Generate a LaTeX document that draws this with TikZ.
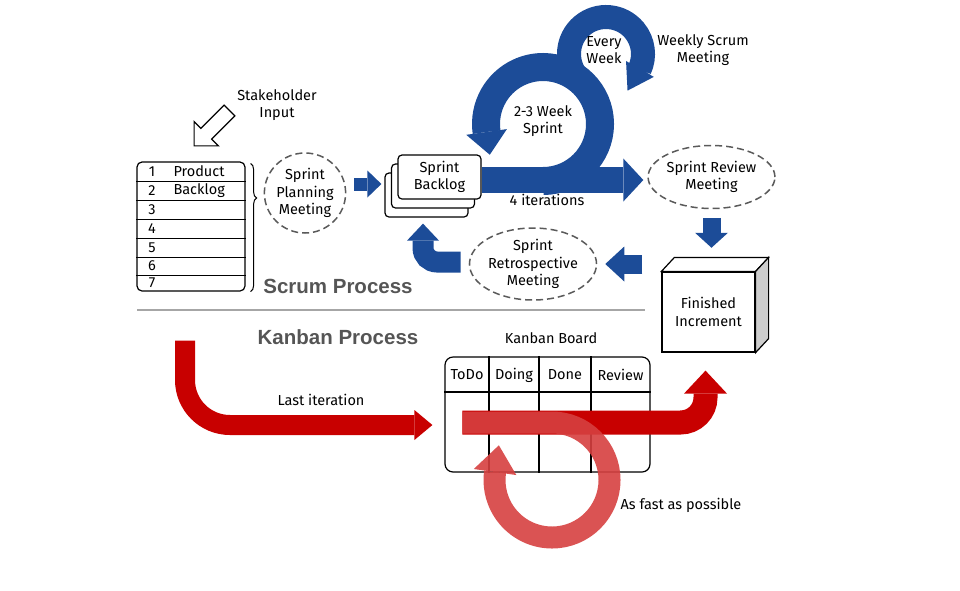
\documentclass[tikz,border=0pt]{standalone}
\usepackage{fontspec}
\setmainfont{Fira Sans}
\newfontfamily\headfont{Liberation Sans}
\usepackage{tikz}
\usetikzlibrary{shapes.geometric, shapes.arrows, arrows.meta, positioning, calc, decorations.pathreplacing}
\definecolor{scrumblue}{RGB}{28, 76, 152}
\definecolor{kanbanred}{RGB}{200, 0, 0}
\definecolor{loopred}{RGB}{214, 64, 64}
\definecolor{dashcolor}{RGB}{90, 90, 90}
\definecolor{headcolor}{RGB}{85, 85, 85}
\definecolor{sidecolor}{RGB}{205, 205, 205}

\begin{document}
\begin{tikzpicture}[
    x=1pt, y=-1pt,
    font=\fontsize{14.5}{17.5}\selectfont,
    meeting/.style={draw=dashcolor, ellipse, dash pattern=on 7pt off 4pt, line width=1.5pt, align=center, inner sep=0pt},
    card/.style={draw, fill=white, rounded corners=4pt, line width=1.2pt, minimum width=83pt, minimum height=44pt, align=center},
    heading/.style={font=\headfont\bfseries\fontsize{20.5}{24}\selectfont, text=headcolor},
    scrum arrow/.style args={#1/#2/#3}{draw=scrumblue, line width=#1, -{Triangle[width=#2, length=#3, line width=0pt]}},
    kanban arrow/.style args={#1/#2/#3}{draw=kanbanred, line width=#1, -{Triangle[width=#2, length=#3, line width=0pt]}},
    input arrow/.style={draw, fill=white, line width=1.2pt, single arrow, minimum height=50pt, inner xsep=0pt, inner ysep=7pt, single arrow head extend=9.5pt}
]
    \useasboundingbox (0,0) rectangle (960,590);

    % Product backlog
    \node[draw, line width=1.2pt, rounded corners=5pt, minimum width=108pt, minimum height=129pt] (pbl) at (191,226.5) {};
    \foreach \y in {181,200,219,238,257,275}
        \draw[line width=1pt] (pbl.west |- 0,\y) -- (pbl.east |- 0,\y);
    \foreach \n/\y in {1/171.5,2/190.5,3/209.5,4/228.5,5/247.5,6/266,7/283}
        \node at (152,\y) {\n};
    \node[anchor=west] at (170,171.5) {Product};
    \node[anchor=west] at (170,190.5) {Backlog};
    \draw[decorate, decoration={brace, amplitude=6pt, aspect=0.27}, line width=1pt] ($(pbl.north east)+(5,2)$) -- ($(pbl.south east)+(5,0)$);

    % Stakeholder input
    \node[input arrow, rotate=225] (input) at (214.5,125.5) {};
    \node[align=center] (inputlabel) at (277,105) {Stakeholder\\Input};

    % Meetings
    \node[meeting, minimum width=80pt, minimum height=80pt] (plan) at (305,193) {Sprint\\Planning\\Meeting};
    \node[meeting, minimum width=123pt, minimum height=63pt] (review) at (711.5,177) {Sprint Review\\Meeting};
    \node[meeting, minimum width=114pt, minimum height=72pt] (retro) at (533,264) {Sprint\\Retrospective\\Meeting};

    % Sprint backlog stack
    \node[card] (sblback) at (426.5,195) {};
    \node[card] (sblmid) at (433,186) {};
    \node[card] (sbl) at (439.5,177) {Sprint\\Backlog};

    % Finished increment
    \node[draw, fill=white, line width=1.2pt, minimum width=93pt, minimum height=80pt, align=center] (inc) at (708.5,312) {Finished\\Increment};
    \draw[line width=1.2pt, fill=white] (inc.north west) -- ++(13,-14) -- ($(inc.north east)+(13,-14)$) -- (inc.north east) -- cycle;
    \draw[line width=1.2pt, fill=sidecolor] (inc.north east) -- ++(13,-14) -- ($(inc.south east)+(13,-14)$) -- (inc.south east) -- cycle;

    % Sprint cycles
    \draw[scrum arrow=24pt/32pt/25pt] (606,54) ++(140:37) arc[start angle=140, end angle=385, radius=37] -- ++(-12,21);
    \draw[scrum arrow=28pt/41pt/23pt] (543,181) arc[start angle=90, end angle=-188, radius=57] -- ++(3.2,22.8);
    \draw[scrum arrow=26pt/43pt/20pt] ($(sbl.east)+(0,3)$) -- ($(review.west)+(-4,3)$);
    \node[align=center] at (543,121) {2-3 Week\\Sprint};
    \node[align=center] at (604,50) {Every\\Week};
    \node[align=center] at (703,50) {Weekly Scrum\\Meeting};
    \node at (547,200) {4 iterations};

    % Scrum flow
    \draw[scrum arrow=13pt/27pt/14pt] ($(plan.east)+(8,-9)$) -- ++(27,0);
    \draw[scrum arrow=18pt/33pt/15pt] ($(review.south)+(0,8.5)$) -- ++(0,30);
    \draw[scrum arrow=19pt/35pt/19pt] ($(inc.west)+(-19,-48)$) -- ($(retro.east)+(8,0)$);
    \draw[scrum arrow=21pt/32pt/17pt, rounded corners=14pt] ($(retro.west)+(-8,-2)$) -| ($(sblback.south)+(-3.5,6)$);

    % Divider and titles
    \draw[gray!70, line width=2pt] (137,310) -- (645,310);
    \node[heading] at (338,286) {Scrum Process};
    \node[heading] at (338,337) {Kanban Process};

    % Kanban board
    \node at (551,338) {Kanban Board};
    \node[draw, fill=white, line width=1.2pt, rounded corners=8pt, minimum width=205pt, minimum height=115pt] (kb) at (547.5,414.5) {};
    \draw[line width=1.2pt] (kb.west |- 0,392) -- (kb.east |- 0,392);
    \foreach \x in {489,539,591}
        \draw[line width=1.2pt] (kb.north -| \x,0) -- (kb.south -| \x,0);
    \foreach \x/\t in {467/ToDo, 514/Doing, 565/Done, 620.5/Review}
        \node at (\x,375) {\t};

    % Kanban flow
    \coordinate (kstart) at ($(kb.west)+(18,8)$);
    \draw[kanban arrow=20pt/30pt/18pt, rounded corners=45pt] ($(pbl.south)+(-6,49)$) |- ($(kb.west)+(-12,10.5)$);
    \node at (321,400) {Last iteration};
    \draw[kanban arrow=24pt/43pt/23pt, rounded corners=25pt] (kstart) -| ($(inc.south)+(-3,18)$);
    \draw[kanban arrow=22pt/43pt/27pt, draw=loopred, opacity=0.9] (kstart) -- (552,422.5) arc[start angle=-90, end angle=188, radius=57.5] -- ++(3.8,-26.7);
    \node at (681,505) {As fast as possible};
\end{tikzpicture}
\end{document}
